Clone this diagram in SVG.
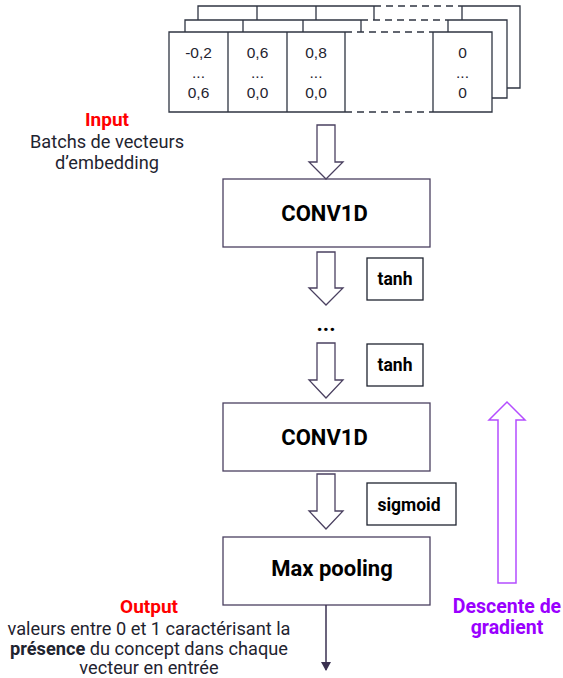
<svg xmlns="http://www.w3.org/2000/svg" width="563" height="678" viewBox="0 0 563 678">
<style>
.bg{fill:#ffffff}
.cell{fill:none;stroke:#2f3542;stroke-width:1.3}
.dash{fill:none;stroke:#2f3542;stroke-width:1.3;stroke-dasharray:7 5}
.val{font-family:"Liberation Sans",Arial,sans-serif;font-size:15.5px;fill:#1f2430;text-anchor:middle}
.box{fill:#ffffff;stroke:#4a4060;stroke-width:1.3}
.act{fill:#ffffff;stroke:#1f2430;stroke-width:1.3}
.harrow{fill:#ffffff;stroke:#4a4060;stroke-width:1.3;stroke-linejoin:miter}
.parrow{fill:#ffffff;stroke:#b44dff;stroke-width:1.5}
.title{font-family:Roboto,"Liberation Sans",sans-serif;font-weight:bold;font-size:22px;fill:#000000;text-anchor:middle}
.lbl{font-family:Roboto,"Liberation Sans",sans-serif;font-weight:bold;font-size:17.5px;fill:#000000;text-anchor:middle}
.red{font-family:Roboto,"Liberation Sans",sans-serif;font-weight:bold;font-size:19px;fill:#ff0000;text-anchor:middle}
.body{font-family:Roboto,"Liberation Sans",sans-serif;font-size:18.2px;fill:#1f2430;text-anchor:middle}
.purple{font-family:Roboto,"Liberation Sans",sans-serif;font-weight:bold;font-size:19.5px;fill:#9a00ff;text-anchor:middle}
</style>
<defs>
<marker id="tri" markerWidth="10" markerHeight="10" refX="8" refY="5" orient="auto" markerUnits="userSpaceOnUse">
<path d="M0,0 L9,5 L0,10 Z" fill="#3a3050"/>
</marker>
</defs>
<rect class="bg" x="0" y="0" width="563" height="678"/>

<g id="input-batch">
  <!-- back layer -->
  <path class="cell" d="M198,20 V6 H374 M462,6 H520 V88 H507"/>
  <path class="dash" d="M374,6 H462"/>
  <path class="cell" d="M257,6 V20 M316,6 V20 M374,6 V20 M462,6 V20"/>
  <!-- middle layer -->
  <path class="cell" d="M185,32 V20 H361 M448,20 H507 V98 H492"/>
  <path class="dash" d="M361,20 H448"/>
  <path class="cell" d="M243,20 V32 M303,20 V32 M361,20 V32 M448,20 V32"/>
  <!-- front layer -->
  <path class="cell" d="M345,32 H169 V112 H345 M433,32 H492 V112 H433"/>
  <path class="dash" d="M345,32 H433 M345,112 H433"/>
  <path class="cell" d="M228,32 V112 M287,32 V112 M345,32 V112 M433,32 V112"/>
  <text class="val" x="198.5" y="58">-0,2</text>
  <text class="val" x="198.5" y="78">...</text>
  <text class="val" x="198.5" y="98">0,6</text>
  <text class="val" x="257.5" y="58">0,6</text>
  <text class="val" x="257.5" y="78">...</text>
  <text class="val" x="257.5" y="98">0,0</text>
  <text class="val" x="316" y="58">0,8</text>
  <text class="val" x="316" y="78">...</text>
  <text class="val" x="316" y="98">0,0</text>
  <text class="val" x="462.5" y="58">0</text>
  <text class="val" x="462.5" y="78">...</text>
  <text class="val" x="462.5" y="98">0</text>
</g>

<g id="input-label">
  <text class="red" x="107" y="126">Input</text>
  <text class="body" x="107" y="148">Batchs de vecteurs</text>
  <text class="body" x="107" y="169">d’embedding</text>
</g>

<g id="conv1d-1">
  <rect class="box" x="223" y="179" width="207" height="68"/>
  <text class="title" x="324.5" y="221">CONV1D</text>
</g>

<g id="tanh-1">
  <rect class="act" x="367" y="258" width="56" height="42"/>
  <text class="lbl" x="395" y="285">tanh</text>
</g>

<g id="ellipsis">
  <text class="title" x="326" y="331">...</text>
</g>

<g id="tanh-2">
  <rect class="act" x="367" y="344" width="56" height="42"/>
  <text class="lbl" x="395" y="371">tanh</text>
</g>

<g id="conv1d-2">
  <rect class="box" x="223" y="403" width="207" height="68"/>
  <text class="title" x="324.5" y="445">CONV1D</text>
</g>

<g id="sigmoid">
  <rect class="act" x="367" y="483" width="89" height="42"/>
  <text class="lbl" x="409" y="511">sigmoid</text>
</g>

<g id="maxpool">
  <rect class="box" x="223" y="537" width="207" height="68"/>
  <text class="title" x="332" y="576">Max pooling</text>
</g>

<g id="output-label">
  <text class="red" x="149" y="613">Output</text>
  <text class="body" x="149" y="635">valeurs entre 0 et 1 caractérisant la</text>
  <text class="body" x="149" y="655"><tspan font-weight="bold">présence</tspan> du concept dans chaque</text>
  <text class="body" x="149" y="674">vecteur en entrée</text>
</g>

<g id="gradient-label">
  <text class="purple" x="507" y="613">Descente de</text>
  <text class="purple" x="507" y="634">gradient</text>
</g>

<g id="connectors">
  <path class="harrow" d="M317,125 H335 V162 H343 L326,179 L309,162 H317 Z"/>
  <path class="harrow" d="M317,252 H335 V288 H343 L326,305 L309,288 H317 Z"/>
  <path class="harrow" d="M317,343 H335 V380 H343 L326,398 L309,380 H317 Z"/>
  <path class="harrow" d="M317,474 H335 V511 H343 L326,529 L309,511 H317 Z"/>
  <line x1="326" y1="605" x2="326" y2="670" stroke="#3a3050" stroke-width="1.5" marker-end="url(#tri)"/>
  <path class="parrow" d="M498,583 V420 H489 L507,402 L525,420 H516 V583 Z"/>
</g>
</svg>
